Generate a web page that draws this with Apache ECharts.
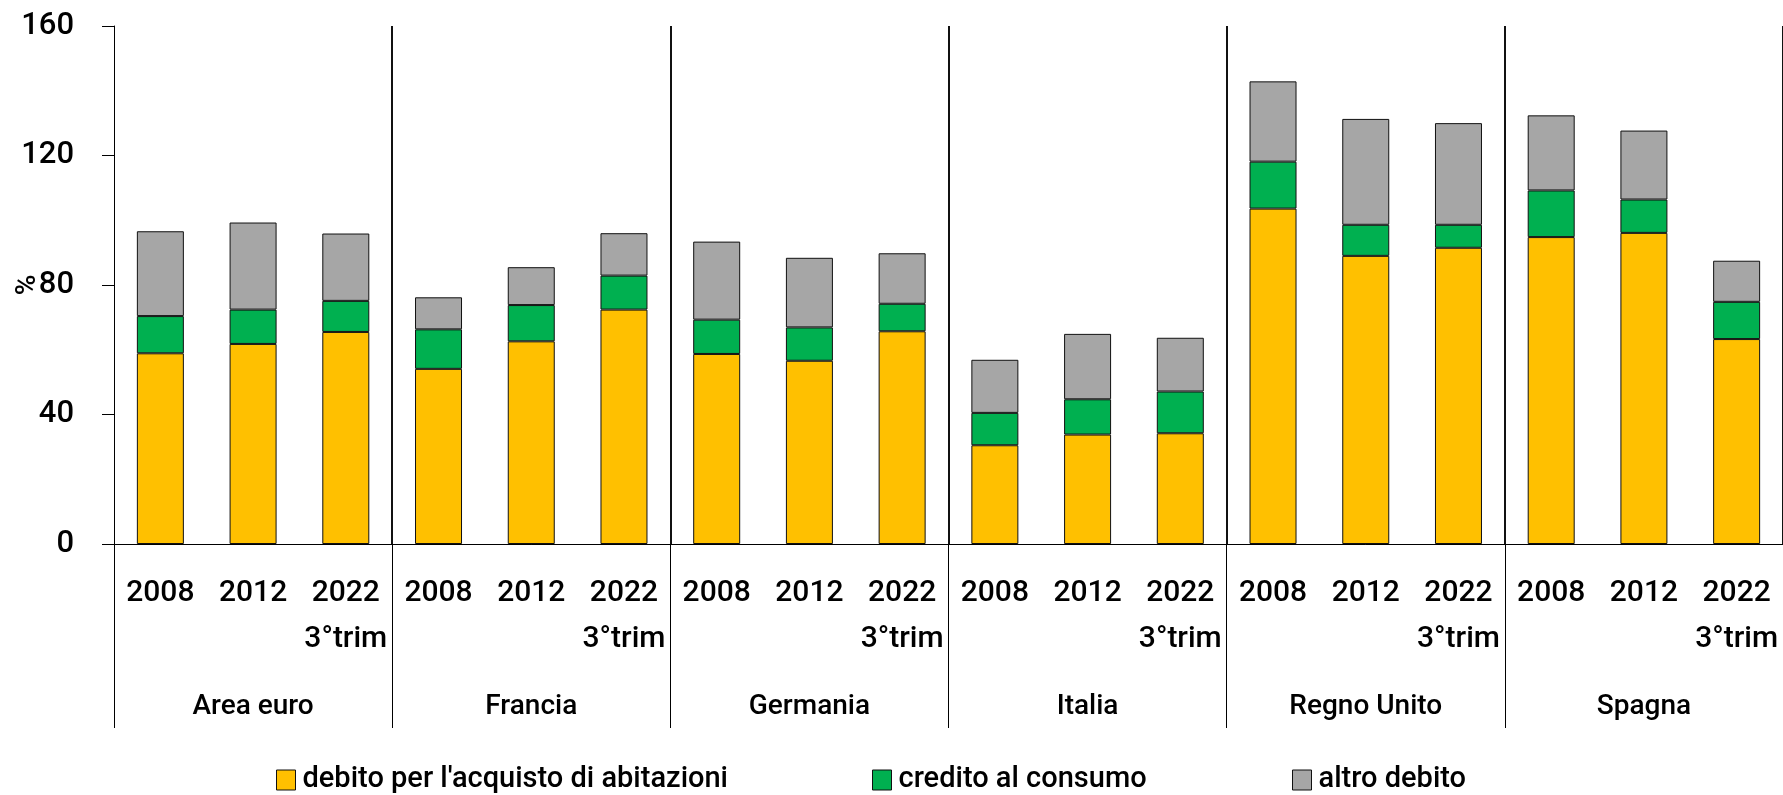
<!DOCTYPE html>
<html>
<head>
<meta charset="utf-8">
<script src="https://cdn.jsdelivr.net/npm/echarts@6/dist/echarts.min.js"></script>
<style>
  html, body { margin: 0; padding: 0; background: #fff; }
  #chart { width: 1783px; height: 795px; }
</style>
</head>
<body>
<div id="chart"></div>
<script>
const countries = ["Area euro", "Francia", "Germania", "Italia", "Regno Unito", "Spagna"];
const years = ["2008", "2012", "2022\n3°trim"];
const seriesNames = ["debito per l'acquisto di abitazioni", "credito al consumo", "altro debito"];

// valori (% del reddito disponibile)
const abitazioni = [58.9, 61.8, 65.5, 54.1, 62.6, 72.4, 58.7, 56.6, 65.7, 30.5, 33.8, 34.2, 103.6, 89.0, 91.5, 94.8, 96.1, 63.3];
const consumo = [11.5, 10.6, 9.6, 12.2, 11.2, 10.5, 10.6, 10.3, 8.5, 10.0, 10.9, 12.9, 14.5, 9.6, 7.1, 14.4, 10.3, 11.5];
const altro = [26.2, 26.9, 20.8, 9.9, 11.7, 13.1, 24.1, 21.5, 15.6, 16.4, 20.2, 16.6, 24.8, 32.7, 31.4, 23.2, 21.3, 12.7];
const yTicks = [0, 40, 80, 120, 160];

const categories = countries.flatMap(() => years);
const font = "Roboto, 'Liberation Sans', sans-serif";
const colors = ["#FFC000", "#00B050", "#A6A6A6"];

const chart = echarts.init(document.getElementById("chart"));

const makeBar = (name, data, i) => ({
  name: name,
  type: "bar",
  stack: "tot",
  data: data,
  barWidth: 47,
  itemStyle: {
    color: colors[i],
    borderColor: "#111",
    borderWidth: 1,
  },
  emphasis: { disabled: true },
});

const legendItem = (name, left) => ({
  left: left,
  top: 765,
  padding: 0,
  icon: "rect",
  itemWidth: 19,
  itemHeight: 20,
  data: [name],
  itemStyle: { borderColor: "#111", borderWidth: 1 },
  textStyle: { fontFamily: font, fontSize: 29, fontWeight: 500, lineHeight: 30, color: "#000", padding: [0, 0, 0, 2] },
});

const option = {
  animation: false,
  textStyle: { fontFamily: font },
  legend: [
    legendItem(seriesNames[0], 276),
    legendItem(seriesNames[1], 872),
    legendItem(seriesNames[2], 1292),
  ],
  grid: {
    left: 114,
    right: 0,
    top: 26,
    bottom: 251,
    containLabel: false,
    outerBoundsMode: "none",
  },
  xAxis: [
    {
      type: "category",
      data: categories,
      position: "bottom",
      axisLine: { lineStyle: { color: "#000", width: 1 } },
      axisTick: { show: false },
      axisLabel: {
        interval: 0,
        margin: 26,
        color: "#000",
        fontFamily: font,
        fontSize: 30,
        fontWeight: 500,
        lineHeight: 46,
      },
      splitLine: {
        show: true,
        interval: (idx) => idx > 0 && idx % 3 === 0 && idx < 18,
        lineStyle: { color: "#111", width: 2 },
      },
    },
    {
      type: "category",
      data: countries,
      position: "bottom",
      offset: 0,
      axisLine: { show: false },
      axisTick: {
        show: true,
        length: 184,
        lineStyle: { color: "#000", width: 1 },
      },
      axisLabel: {
        interval: 0,
        margin: 146,
        color: "#000",
        fontFamily: font,
        fontSize: 28,
        fontWeight: 500,
        lineHeight: 34,
      },
      splitLine: { show: false },
    },
  ],
  yAxis: {
    type: "value",
    min: yTicks[0],
    max: yTicks[yTicks.length - 1],
    interval: yTicks[1] - yTicks[0],
    name: "%",
    nameLocation: "middle",
    nameRotate: 90,
    nameGap: 72,
    nameMoveOverlap: false,
    nameTextStyle: { fontFamily: font, fontSize: 28, fontWeight: 500, color: "#000" },
    axisLine: { show: true, lineStyle: { color: "#000", width: 1 } },
    axisTick: { show: true, length: 12, lineStyle: { color: "#000" } },
    axisLabel: { margin: 40, color: "#000", fontFamily: font, fontSize: 31, fontWeight: 500 },
    splitLine: { show: false },
  },
  series: [
    makeBar(seriesNames[0], abitazioni, 0),
    makeBar(seriesNames[1], consumo, 1),
    makeBar(seriesNames[2], altro, 2),
  ],
};

chart.setOption(option);
window.addEventListener("resize", () => {
  chart && chart.resize();
});
</script>
</body>
</html>
